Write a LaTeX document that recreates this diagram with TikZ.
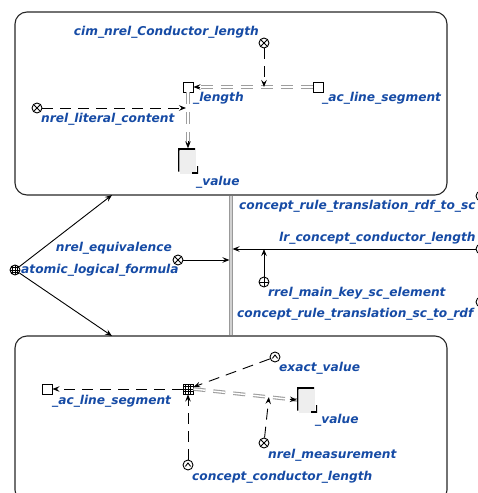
\documentclass[tikz,border=0pt]{standalone}
\usepackage{fontspec}
\setmainfont{DejaVu Sans}
\usetikzlibrary{arrows.meta,calc}
\definecolor{lbl}{RGB}{22,75,165}
\begin{document}
\begin{tikzpicture}[x=1pt,y=-1pt,
  lab/.style={font=\bfseries\itshape\fontsize{12.2}{14}\selectfont, text=lbl, inner sep=0pt},
  sym/.style={draw=black, line width=0.9pt, inner sep=0pt, minimum size=10pt, fill=white},
  xnode/.style={sym, circle, path picture={\draw[line width=0.9pt] (path picture bounding box.north west)--(path picture bounding box.south east) (path picture bounding box.north east)--(path picture bounding box.south west);}},
  pnode/.style={sym, circle, path picture={\draw[line width=0.9pt] (path picture bounding box.north)--(path picture bounding box.south) (path picture bounding box.east)--(path picture bounding box.west);}},
  gnode/.style={sym, circle, path picture={\foreach \d in {-2.5,0,2.5} {\draw[line width=0.5pt] ([xshift=\d pt]path picture bounding box.north) -- ([xshift=\d pt]path picture bounding box.south) ([yshift=\d pt]path picture bounding box.east) -- ([yshift=\d pt]path picture bounding box.west);}}},
  hnode/.style={sym, circle, path picture={\draw[line width=0.9pt] ([shift={(-2.6pt,-1.4pt)}]path picture bounding box.center) -- ([shift={(0pt,2pt)}]path picture bounding box.center) -- ([shift={(2.6pt,-1.4pt)}]path picture bounding box.center);}},
  onode/.style={sym, circle},
  snode/.style={sym, rectangle},
  tnode/.style={sym, rectangle, path picture={\foreach \d in {-2.5,0,2.5} {\draw[line width=0.5pt] ([xshift=\d pt]path picture bounding box.north) -- ([xshift=\d pt]path picture bounding box.south) ([yshift=\d pt]path picture bounding box.east) -- ([yshift=\d pt]path picture bounding box.west);}}},
  valbox/.style={minimum width=20pt, minimum height=25pt, inner sep=0pt, path picture={
    \fill[gray!13] ([shift={(2pt,0pt)}]path picture bounding box.south west) rectangle ([shift={(-2pt,-1pt)}]path picture bounding box.north east);
    \draw[line width=2.6pt, rounded corners=2pt] ([yshift=2pt]path picture bounding box.south west) -- (path picture bounding box.north west) -- ([xshift=-3pt]path picture bounding box.north east);
    \draw[line width=2.6pt] ([xshift=-6pt]path picture bounding box.south east) -- (path picture bounding box.south east) -- ([yshift=8pt]path picture bounding box.south east);}},
  box/.style={draw=black!85, line width=1.1pt, rounded corners=12pt, inner sep=0pt},
  arr/.style={draw=black, line width=0.9pt, -{Stealth[length=7pt,width=5.5pt,inset=2.5pt]}},
  darr/.style={arr, dash pattern=on 11pt off 7pt},
  dbl/.style={draw=black!38, line width=1.1pt, double=white, double distance=1.4pt, dash pattern=on 12pt off 8pt},
  vline/.style={draw=black!40, line width=0.9pt, double=black!18, double distance=1.3pt}
]
\useasboundingbox (0,0) rectangle (478,493);

% boxes
\node[box, minimum width=432pt, minimum height=183pt] (top) at (231,103.5) {};
\node[box, minimum width=432pt, minimum height=166pt] (bot) at (231,419) {};
\draw[vline] (top.south) -- (bot.north);

% top box contents
\node[xnode] (cnc) at (264,43) {};
\node[lab, anchor=east] (cncl) at (259,32) {cim\_nrel\_Conductor\_length};
\node[snode] (len) at (188,87) {};
\node[lab, anchor=west] (lenl) at (193,98) {\_length};
\node[snode] (acl) at (318,87) {};
\node[lab, anchor=west] (acll) at (322,98) {\_ac\_line\_segment};
\node[xnode] (nlc) at (37,108) {};
\node[lab, anchor=west] (nlcl) at (41,119) {nrel\_literal\_content};
\node[valbox] (v1) at (188,161) {};
\node[lab, anchor=west] (v1l) at (196,182) {\_value};

\draw[dbl] (acl.west) -- (len.east);
\draw[arr] ($(len.east)+(7,0)$) -- (len.east);
\coordinate (c1) at (cnc |- len);
\draw[darr] (cnc) -- (c1);
\draw[dbl] (len.south) -- (v1.north);
\draw[arr] ($(v1.north)+(0,-7)$) -- (v1.north);
\coordinate (c2) at ($(len |- nlc)+(-2,0)$);
\draw[darr] (nlc) -- (c2);

% middle
\node[gnode] (alf) at (15,270) {};
\node[lab, anchor=west] (alfl) at (21,270) {atomic\_logical\_formula};
\coordinate (ta) at (112,195);
\coordinate (ba) at (112,336);
\draw[arr] (alf) -- (ta);
\draw[arr] (alf) -- (ba);
\node[xnode] (neq) at (178,260) {};
\node[lab, anchor=east] (neql) at (172,248) {nrel\_equivalence};
\coordinate (c3) at ($(top.south |- neq)+(-1.5,0)$);
\draw[arr] (neq) -- (c3);
\node[onode] (lrc) at (481,249) {};
\node[lab, anchor=west] (lrcl) at (279,238) {lr\_concept\_conductor\_length};
\coordinate (c4) at ($(top.south |- lrc)+(1.5,0)$);
\draw[arr] (lrc) -- (c4);
\node[pnode] (rrel) at (264,282) {};
\node[lab, anchor=west] (rrell) at (268,293) {rrel\_main\_key\_sc\_element};
\coordinate (c5) at (rrel |- lrc);
\draw[arr] (rrel) -- (c5);
\node[onode] (rdf) at (481,196) {};
\node[lab, anchor=west] (rdfl) at (239,206) {concept\_rule\_translation\_rdf\_to\_sc};
\node[onode] (scr) at (481,302) {};
\node[lab, anchor=west] (scrl) at (237,314) {concept\_rule\_translation\_sc\_to\_rdf};

% bottom box contents
\node[snode] (acl2) at (47,389) {};
\node[lab, anchor=west] (acl2l) at (52,401) {\_ac\_line\_segment};
\node[tnode] (tup) at (188,389) {};
\node[hnode] (ev) at (275,357) {};
\node[lab, anchor=west] (evl) at (279,368) {exact\_value};
\node[valbox] (v2) at (307,400) {};
\node[lab, anchor=west] (v2l) at (315,420) {\_value};
\node[xnode] (nm) at (264,443) {};
\node[lab, anchor=west] (nml) at (268,455) {nrel\_measurement};
\node[hnode] (ccl) at (188,465) {};
\node[lab, anchor=west] (ccll) at (192,477) {concept\_conductor\_length};

\draw[darr] (tup) -- (acl2);
\draw[darr] (ev) -- (tup);
\draw[dbl] (tup.east) -- (v2.west);
\draw[arr] ($(v2.west)!7pt!(tup.east)$) -- (v2.west);
\coordinate (c6) at ($(tup.east)!(nm)!(v2.west)$);
\draw[darr] (nm) -- (c6);
\draw[darr] (ccl) -- (tup);
\end{tikzpicture}
\end{document}
